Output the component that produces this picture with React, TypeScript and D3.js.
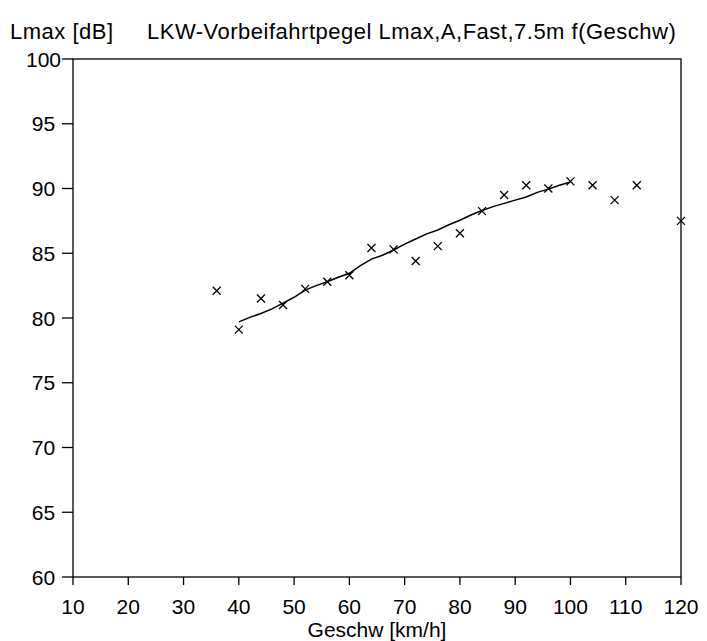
import React from "react";
import * as d3 from "d3";

const speeds = [36, 40, 44, 48, 52, 56, 60, 64, 68, 72, 76, 80, 84, 88, 92, 96, 100, 104, 108, 112, 120];
const levels = [82.1, 79.1, 81.5, 81.0, 82.25, 82.8, 83.3, 85.4, 85.3, 84.4, 85.55, 86.55, 88.25, 89.5, 90.25, 90.0, 90.55, 90.25, 89.1, 90.25, 87.5];

const fitSpeeds = [40, 42, 44, 46, 48, 50, 52, 54, 56, 58, 60, 62, 64, 66, 68, 70, 72, 74, 76, 78, 80, 82, 84, 86, 88, 90, 92, 94, 96, 98, 100];
const fitLevels = [79.7, 80.05, 80.35, 80.7, 81.15, 81.6, 82.15, 82.5, 82.8, 83.15, 83.45, 84.05, 84.55, 84.85, 85.25, 85.7, 86.1, 86.5, 86.8, 87.2, 87.55, 87.95, 88.3, 88.6, 88.85, 89.1, 89.35, 89.7, 89.95, 90.25, 90.5];

const xTicks = [10, 20, 30, 40, 50, 60, 70, 80, 90, 100, 110, 120];
const yTicks = [60, 65, 70, 75, 80, 85, 90, 95, 100];

const W = 707;
const H = 641;
const L = 73;
const R = 681;
const T = 59;
const B = 577;
const FONT = "'Liberation Sans', Arial, sans-serif";

export default function App() {
  const x = d3.scaleLinear().domain([10, 120]).range([L, R]);
  const y = d3.scaleLinear().domain([60, 100]).range([B, T]);
  const line = d3
    .line<number>()
    .x((_, i) => x(fitSpeeds[i]))
    .y((d) => y(d))
    .curve(d3.curveLinear);
  const s = 4;
  return (
    <svg width={W} height={H} style={{ position: "absolute", left: 0, top: 0 }}>
      <rect x={0} y={0} width={W} height={H} fill="#fff" />
      <g fontFamily={FONT} fontSize={22} fill="#000" letterSpacing={0.5}>
        <text x={10} y={39}>Lmax [dB]</text>
        <text x={147} y={39}>LKW-Vorbeifahrtpegel Lmax,A,Fast,7.5m f(Geschw)</text>
      </g>
      <rect x={L} y={T} width={R - L} height={B - T} fill="none" stroke="#000" strokeWidth={1.3} />
      {yTicks.map((t) => (
        <g key={"y" + t}>
          <line x1={L - 11} x2={L} y1={y(t)} y2={y(t)} stroke="#000" strokeWidth={1.3} />
          <text x={43.5} y={y(t)} dy="0.36em" textAnchor="middle" fontFamily={FONT} fontSize={21}>
            {t}
          </text>
        </g>
      ))}
      {xTicks.map((t) => (
        <g key={"x" + t}>
          <line x1={x(t)} x2={x(t)} y1={B} y2={B + 8} stroke="#000" strokeWidth={1.3} />
          <text x={x(t)} y={614} textAnchor="middle" fontFamily={FONT} fontSize={21}>
            {t}
          </text>
        </g>
      ))}
      <text x={(L + R) / 2} y={637} textAnchor="middle" fontFamily={FONT} fontSize={21}>
        Geschw [km/h]
      </text>
      <path d={line(fitLevels) || ""} fill="none" stroke="#000" strokeWidth={1.5} />
      {speeds.map((sp, i) => {
        const cx = x(sp);
        const cy = y(levels[i]);
        return (
          <path
            key={"p" + i}
            d={`M${cx - s},${cy - s}L${cx + s},${cy + s}M${cx - s},${cy + s}L${cx + s},${cy - s}`}
            stroke="#000"
            strokeWidth={1.3}
            fill="none"
          />
        );
      })}
    </svg>
  );
}
